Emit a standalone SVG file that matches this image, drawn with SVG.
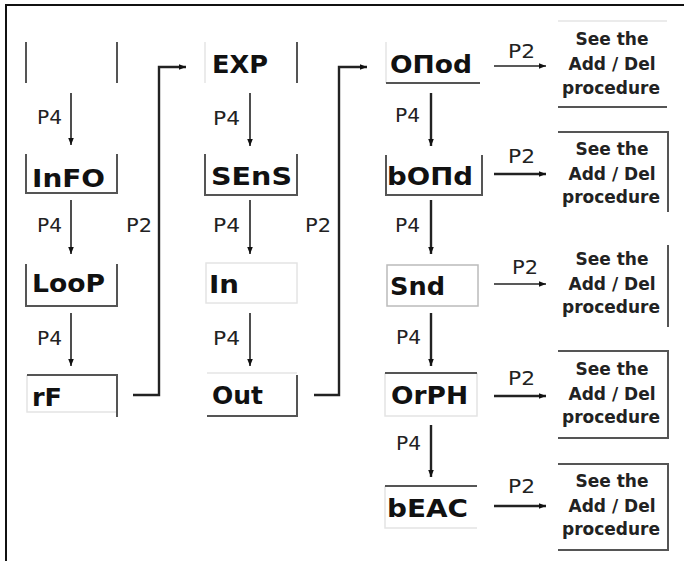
<svg xmlns="http://www.w3.org/2000/svg" width="684" height="561" viewBox="0 0 684 561">
<defs>
<marker id="ah" viewBox="0 0 10 10" refX="10" refY="5" markerUnits="userSpaceOnUse" markerWidth="7" markerHeight="7" orient="auto">
<path d="M0,1 L10,5 L0,9 z" fill="#111"/>
</marker>
</defs>
<style>
.frame{stroke:#111;stroke-width:2;fill:none}
.bl{stroke:#555;stroke-width:2;fill:none}
.fl{stroke:#e4e4e4;stroke-width:1.5;fill:none}
.ar{stroke:#222;stroke-width:1.6;fill:none}
.ar2{stroke:#222;stroke-width:2.4;fill:none}
.cn{stroke:#222;stroke-width:2.4;fill:none}
.nl{font-family:"DejaVu Sans",Verdana,sans-serif;font-weight:bold;font-size:25px;fill:#111}
.pl{font-family:"DejaVu Sans",Verdana,sans-serif;font-size:19px;fill:#222}
.st{font-family:"DejaVu Sans",Verdana,sans-serif;font-weight:bold;font-size:17px;fill:#222;text-anchor:middle}
</style>
<rect x="0" y="0" width="684" height="561" fill="#fff"/>
<path class="frame" d="M6,561 V5 H684"/>

<g id="n-empty">
<path class="bl" d="M26,42 V83 M117,42 V83" stroke="#888"/>
</g>
<g id="n-info">
<path class="bl" d="M26,154 V193 H117 V154"/>
<text class="nl" x="32" y="187" textLength="73" lengthAdjust="spacingAndGlyphs">InFO</text>
</g>
<g id="n-loop">
<path class="bl" d="M26,264 V306 H117 V264"/>
<text class="nl" x="32" y="292" textLength="73" lengthAdjust="spacingAndGlyphs">LooP</text>
</g>
<g id="n-rf">
<path class="fl" d="M27,375 V412 H117"/>
<path class="bl" d="M27,375 H117 V417"/>
<text class="nl" x="32" y="406" textLength="30" lengthAdjust="spacingAndGlyphs">rF</text>
</g>

<g id="n-exp">
<path class="fl" d="M205,42 V83"/>
<path class="bl" d="M297,42 V83"/>
<text class="nl" x="212" y="73" textLength="56" lengthAdjust="spacingAndGlyphs">EXP</text>
</g>
<g id="n-sens">
<path class="bl" d="M205,154 V195 H297 V154"/>
<text class="nl" x="211" y="185" textLength="81" lengthAdjust="spacingAndGlyphs">SEnS</text>
</g>
<g id="n-in">
<rect class="fl" x="206" y="263" width="91" height="40"/>
<text class="nl" x="209" y="293" font-size="23" textLength="30" lengthAdjust="spacingAndGlyphs">In</text>
</g>
<g id="n-out">
<path class="fl" d="M207,373 H297"/>
<path class="bl" d="M207,416 H297 V375"/>
<text class="nl" x="212" y="404" textLength="51" lengthAdjust="spacingAndGlyphs">Out</text>
</g>

<g id="n-onod">
<path class="fl" d="M386,42 V83"/>
<path class="bl" d="M386,83 H480"/>
<text class="nl" x="390" y="73" textLength="82" lengthAdjust="spacingAndGlyphs">OΠod</text>
</g>
<g id="n-bond">
<path class="bl" d="M386,155 V195 H482 V155"/>
<text class="nl" x="387" y="185" textLength="86" lengthAdjust="spacingAndGlyphs">bOΠd</text>
</g>
<g id="n-snd">
<rect x="387" y="265" width="91" height="41" fill="none" stroke="#bbb" stroke-width="1.5"/>
<text class="nl" x="390" y="295" textLength="55" lengthAdjust="spacingAndGlyphs">Snd</text>
</g>
<g id="n-orph">
<path class="fl" d="M385,373 V416 H477 V373"/>
<path class="bl" d="M385,373 H477"/>
<text class="nl" x="391" y="404" textLength="77" lengthAdjust="spacingAndGlyphs">OrPH</text>
</g>
<g id="n-beac">
<path class="fl" d="M385,486 V528 H477"/>
<path class="bl" d="M385,486 H477"/>
<text class="nl" x="387" y="517" textLength="81" lengthAdjust="spacingAndGlyphs">bEAC</text>
</g>

<g id="n-see1">
<path class="fl" d="M558,21 H667"/>
<path class="bl" d="M558,107 H667"/>
<text class="st" x="612" y="45">See the</text>
<text class="st" x="612" y="70">Add / Del</text>
<text class="st" x="611" y="94">procedure</text>
</g>
<g id="n-see2">
<path class="bl" d="M558,132 H668 V212"/>
<text class="st" x="612" y="155">See the</text>
<text class="st" x="612" y="180">Add / Del</text>
<text class="st" x="611" y="203">procedure</text>
</g>
<g id="n-see3">
<path class="bl" d="M668,245 V327"/>
<text class="st" x="612" y="265">See the</text>
<text class="st" x="612" y="290">Add / Del</text>
<text class="st" x="611" y="313">procedure</text>
</g>
<g id="n-see4">
<path class="bl" d="M558,351 H668 V438 H558"/>
<text class="st" x="612" y="375">See the</text>
<text class="st" x="612" y="400">Add / Del</text>
<text class="st" x="611" y="423">procedure</text>
</g>
<g id="n-see5">
<path class="bl" d="M558,464 H668 V550 H558"/>
<text class="st" x="612" y="487">See the</text>
<text class="st" x="612" y="512">Add / Del</text>
<text class="st" x="611" y="535">procedure</text>
</g>

<g id="connectors">
<line class="ar" x1="71" y1="93" x2="71" y2="145" marker-end="url(#ah)"/>
<line class="ar" x1="71" y1="200" x2="71" y2="254" marker-end="url(#ah)"/>
<line class="ar" x1="71" y1="313" x2="71" y2="366" marker-end="url(#ah)"/>
<path class="cn" d="M133,395 H159 V67 H186" marker-end="url(#ah)"/>
<line class="ar" x1="250" y1="93" x2="250" y2="146" marker-end="url(#ah)"/>
<line class="ar" x1="250" y1="200" x2="250" y2="254" marker-end="url(#ah)"/>
<line class="ar" x1="250" y1="313" x2="250" y2="366" marker-end="url(#ah)"/>
<path class="cn" d="M314,395 H339 V67 H367" marker-end="url(#ah)"/>
<line class="ar2" x1="431" y1="93" x2="431" y2="146" marker-end="url(#ah)"/>
<line class="ar2" x1="431" y1="200" x2="431" y2="254" marker-end="url(#ah)"/>
<line class="ar2" x1="431" y1="313" x2="431" y2="366" marker-end="url(#ah)"/>
<line class="ar2" x1="431" y1="425" x2="431" y2="477" marker-end="url(#ah)"/>
<line class="ar" x1="494" y1="66" x2="546" y2="66" marker-end="url(#ah)"/>
<line class="ar2" x1="494" y1="174" x2="546" y2="174" marker-end="url(#ah)"/>
<line class="ar" x1="494" y1="284" x2="546" y2="284" marker-end="url(#ah)"/>
<line class="ar2" x1="494" y1="396" x2="546" y2="396" marker-end="url(#ah)"/>
<line class="ar2" x1="494" y1="506" x2="546" y2="506" marker-end="url(#ah)"/>
<text class="pl" x="37" y="124" textLength="25" lengthAdjust="spacingAndGlyphs">P4</text>
<text class="pl" x="37" y="232" textLength="25" lengthAdjust="spacingAndGlyphs">P4</text>
<text class="pl" x="37" y="345" textLength="25" lengthAdjust="spacingAndGlyphs">P4</text>
<text class="pl" x="126" y="232" textLength="26" lengthAdjust="spacingAndGlyphs">P2</text>
<text class="pl" x="213" y="125" textLength="27" lengthAdjust="spacingAndGlyphs">P4</text>
<text class="pl" x="213" y="232" textLength="27" lengthAdjust="spacingAndGlyphs">P4</text>
<text class="pl" x="213" y="345" textLength="27" lengthAdjust="spacingAndGlyphs">P4</text>
<text class="pl" x="305" y="232" textLength="26" lengthAdjust="spacingAndGlyphs">P2</text>
<text class="pl" x="395" y="122" textLength="25" lengthAdjust="spacingAndGlyphs">P4</text>
<text class="pl" x="395" y="232" textLength="25" lengthAdjust="spacingAndGlyphs">P4</text>
<text class="pl" x="396" y="344" textLength="25" lengthAdjust="spacingAndGlyphs">P4</text>
<text class="pl" x="396" y="450" textLength="25" lengthAdjust="spacingAndGlyphs">P4</text>
<text class="pl" x="508" y="58" textLength="27" lengthAdjust="spacingAndGlyphs">P2</text>
<text class="pl" x="508" y="163" textLength="27" lengthAdjust="spacingAndGlyphs">P2</text>
<text class="pl" x="512" y="274" textLength="26" lengthAdjust="spacingAndGlyphs">P2</text>
<text class="pl" x="508" y="385" textLength="27" lengthAdjust="spacingAndGlyphs">P2</text>
<text class="pl" x="508" y="493" textLength="27" lengthAdjust="spacingAndGlyphs">P2</text>
</g>
</svg>
